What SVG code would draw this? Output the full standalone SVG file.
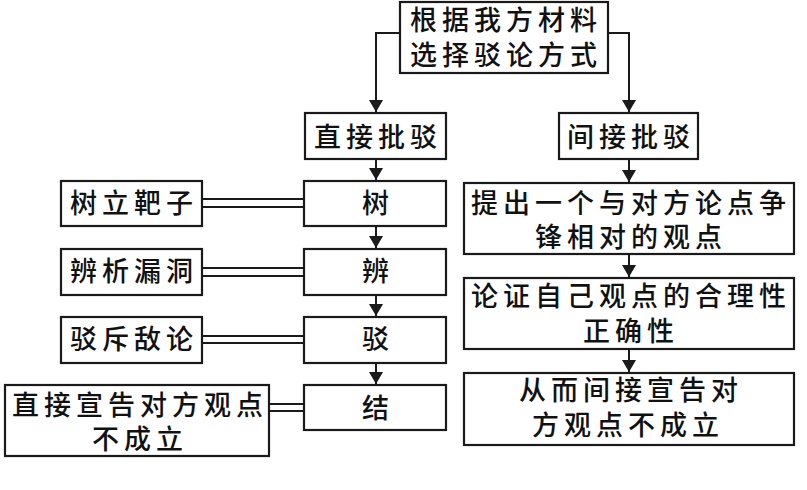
<svg xmlns="http://www.w3.org/2000/svg" width="807" height="490" viewBox="0 0 807 490">
<defs>
<style>
.box{fill:#fff;stroke:#1a1a1a;stroke-width:2.2}
.t{font-family:"Noto Sans CJK SC","Noto Sans",sans-serif;font-size:27px;font-weight:500;fill:#111;text-anchor:middle;letter-spacing:5px}
.ln{fill:none;stroke:#1a1a1a;stroke-width:2}
</style>
<marker id="ah" viewBox="0 0 12 14" refX="12" refY="7" markerWidth="12" markerHeight="14" markerUnits="userSpaceOnUse" orient="auto">
<path d="M0,0 L12,7 L0,14 Z" fill="#1a1a1a"/>
</marker>
</defs>
<rect width="807" height="490" fill="#fff"/>
<g id="connectors">
<path class="ln" d="M400,33 H376 V112" marker-end="url(#ah)"/>
<path class="ln" d="M608,33 H629 V112" marker-end="url(#ah)"/>
<path class="ln" d="M376,159 V180" marker-end="url(#ah)"/>
<path class="ln" d="M629,159 V182" marker-end="url(#ah)"/>
<path class="ln" d="M376,226 V248" marker-end="url(#ah)"/>
<path class="ln" d="M376,295 V316" marker-end="url(#ah)"/>
<path class="ln" d="M376,363 V384" marker-end="url(#ah)"/>
<path class="ln" d="M629,254 V277" marker-end="url(#ah)"/>
<path class="ln" d="M629,349 V372" marker-end="url(#ah)"/>
<path class="ln" d="M202,199 H304 M202,207 H304"/>
<path class="ln" d="M202,268 H304 M202,276 H304"/>
<path class="ln" d="M202,336 H304 M202,343 H304"/>
<path class="ln" d="M269,404 H304 M269,411 H304"/>
</g>
<g id="n-root"><rect class="box" x="400" y="2" width="208" height="71"/>
<text class="t"><tspan x="506" y="30">根据我方材料</tspan><tspan x="506" y="65">选择驳论方式</tspan></text></g>
<g id="n-direct"><rect class="box" x="305" y="113" width="141" height="46"/>
<text class="t" x="378" y="147">直接批驳</text></g>
<g id="n-indirect"><rect class="box" x="559" y="113" width="139" height="46"/>
<text class="t" x="631" y="147">间接批驳</text></g>
<g id="n-shu"><rect class="box" x="304" y="181" width="142" height="45"/>
<text class="t" x="378" y="213">树</text></g>
<g id="n-bian"><rect class="box" x="304" y="249" width="142" height="46"/>
<text class="t" x="378" y="281">辨</text></g>
<g id="n-bo"><rect class="box" x="304" y="317" width="142" height="46"/>
<text class="t" x="378" y="349">驳</text></g>
<g id="n-jie"><rect class="box" x="304" y="385" width="142" height="45"/>
<text class="t" x="378" y="418">结</text></g>
<g id="n-shulibazi"><rect class="box" x="61" y="181" width="141" height="45"/>
<text class="t" x="134" y="213">树立靶子</text></g>
<g id="n-bianxi"><rect class="box" x="61" y="249" width="141" height="46"/>
<text class="t" x="134" y="281">辨析漏洞</text></g>
<g id="n-bochi"><rect class="box" x="61" y="317" width="141" height="46"/>
<text class="t" x="134" y="349">驳斥敌论</text></g>
<g id="n-zhijie"><rect class="box" x="5" y="385" width="264" height="71"/>
<text class="t"><tspan x="140" y="415">直接宣告对方观点</tspan><tspan x="140" y="449">不成立</tspan></text></g>
<g id="n-r1"><rect class="box" x="464" y="183" width="330" height="71"/>
<text class="t"><tspan x="631" y="213">提出一个与对方论点争</tspan><tspan x="631" y="247">锋相对的观点</tspan></text></g>
<g id="n-r2"><rect class="box" x="464" y="278" width="330" height="71"/>
<text class="t"><tspan x="631" y="306">论证自己观点的合理性</tspan><tspan x="631" y="341">正确性</tspan></text></g>
<g id="n-r3"><rect class="box" x="464" y="373" width="330" height="72"/>
<text class="t"><tspan x="631" y="400">从而间接宣告对</tspan><tspan x="628" y="435">方观点不成立</tspan></text></g>
</svg>
